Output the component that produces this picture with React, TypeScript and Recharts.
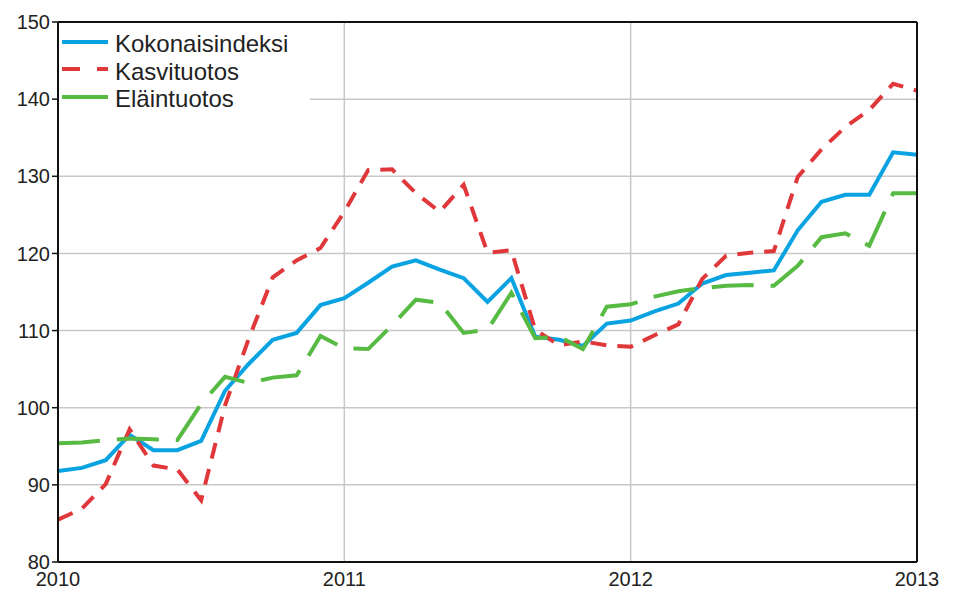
import React from "react";
import { CartesianGrid, Legend, Line, LineChart, ReferenceLine, XAxis, YAxis } from "recharts";

// monthly periods, Jan 2010 .. Jan 2013
const months = [
  "2010M01", "2010M02", "2010M03", "2010M04", "2010M05", "2010M06", "2010M07", "2010M08", "2010M09", "2010M10", "2010M11", "2010M12",
  "2011M01", "2011M02", "2011M03", "2011M04", "2011M05", "2011M06", "2011M07", "2011M08", "2011M09", "2011M10", "2011M11", "2011M12",
  "2012M01", "2012M02", "2012M03", "2012M04", "2012M05", "2012M06", "2012M07", "2012M08", "2012M09", "2012M10", "2012M11", "2012M12",
  "2013M01",
];

const kokonaisindeksi = [
  91.8, 92.2, 93.2, 96.5, 94.5, 94.5, 95.7, 102.2, 105.7, 108.8, 109.7, 113.3,
  114.2, 116.2, 118.3, 119.1, 117.9, 116.8, 113.7, 116.8, 109.2, 108.8, 108.0, 110.9,
  111.3, 112.5, 113.5, 116.1, 117.2, 117.5, 117.8, 123.0, 126.7, 127.6, 127.6, 133.1,
  132.8,
];

const kasvituotos = [
  85.5, 86.9, 90.1, 97.2, 92.5, 92.0, 88.0, 100.3, 109.0, 116.9, 119.1, 120.7,
  125.4, 130.8, 130.9, 127.8, 125.4, 128.9, 120.1, 120.4, 110.1, 108.1, 108.6, 108.1,
  107.9, 109.4, 110.8, 116.7, 119.7, 120.1, 120.3, 129.9, 133.5, 136.4, 138.6, 142.0,
  141.1,
];

const elaintuotos = [
  95.4, 95.5, 95.8, 96.0, 95.9, 95.8, 100.5, 104.0, 103.2, 103.9, 104.2, 109.3,
  107.7, 107.6, 110.7, 114.0, 113.6, 109.7, 110.1, 114.9, 109.0, 109.2, 107.6, 113.1,
  113.4, 114.4, 115.1, 115.5, 115.8, 115.9, 115.8, 118.4, 122.1, 122.6, 121.0, 127.8,
  127.8,
];

const yearTicks = [2010, 2011, 2012, 2013];
const valueTicks = [80, 90, 100, 110, 120, 130, 140, 150];

const series = [
  { key: "kokonais", name: "Kokonaisindeksi", color: "#0aa3e2", dash: undefined, legendDash: undefined },
  { key: "kasvi", name: "Kasvituotos", color: "#e0383a", dash: "16 11", legendDash: "18 17" },
  { key: "elain", name: "Eläintuotos", color: "#57bb43", dash: "42 17", legendDash: undefined },
];

const data = months.map((m, i) => ({
  t: Number(m.slice(0, 4)) + (Number(m.slice(5)) - 1) / 12,
  kokonais: kokonaisindeksi[i],
  kasvi: kasvituotos[i],
  elain: elaintuotos[i],
}));

const FONT = "'Liberation Sans', Arial, sans-serif";
const tickStyle = { fontSize: 20, fill: "#222", fontFamily: FONT };

function LegendBox() {
  return (
    <div style={{ background: "#fff", padding: "7px 0 6px 3px", fontFamily: FONT }}>
      {series.map((s) => (
        <div key={s.key} style={{ display: "flex", alignItems: "center", height: 27.5 }}>
          <svg width={48} height={6} style={{ marginTop: -4 }}>
            <line x1={0} y1={3} x2={46} y2={3} stroke={s.color} strokeWidth={4} strokeDasharray={s.legendDash} />
          </svg>
          <span style={{ fontSize: 24, color: "#222", marginLeft: 5, lineHeight: "27px" }}>{s.name}</span>
        </div>
      ))}
    </div>
  );
}

export default function App() {
  return (
    <div style={{ position: "absolute", left: 0, top: 0, width: 969, height: 592, background: "#fff" }}>
      <LineChart width={969} height={592} data={data} margin={{ top: 22, right: 0, bottom: 0, left: 0 }}>
        <CartesianGrid yAxisId="l" stroke="#c8c8c8" strokeWidth={1.5} />
        <XAxis
          dataKey="t"
          type="number"
          domain={[2010, 2013]}
          ticks={yearTicks}
          interval={0}
          tickLine={false}
          tickMargin={4}
          height={30}
          axisLine={{ stroke: "#111", strokeWidth: 2 }}
          tick={tickStyle}
        />
        <YAxis
          yAxisId="l"
          domain={[80, 150]}
          ticks={valueTicks}
          interval={0}
          width={58}
          tickSize={6}
          tickMargin={2}
          axisLine={{ stroke: "#111", strokeWidth: 2 }}
          tickLine={{ stroke: "#111", strokeWidth: 1.5 }}
          tick={tickStyle}
        />
        <YAxis
          yAxisId="r"
          orientation="right"
          domain={[80, 150]}
          ticks={valueTicks}
          interval={0}
          width={52}
          tickSize={6}
          tickMargin={4}
          axisLine={{ stroke: "#111", strokeWidth: 2 }}
          tickLine={{ stroke: "#111", strokeWidth: 1.5 }}
          tick={tickStyle}
        />
        <ReferenceLine yAxisId="l" y={150} stroke="#111" strokeWidth={2} />
        {series.map((s) => (
          <Line
            key={s.key}
            yAxisId="l"
            type="linear"
            dataKey={s.key}
            name={s.name}
            stroke={s.color}
            strokeWidth={4}
            strokeDasharray={s.dash}
            dot={false}
            activeDot={false}
            isAnimationActive={false}
          />
        ))}
        <Legend
          layout="vertical"
          align="center"
          verticalAlign="middle"
          wrapperStyle={{ left: 59, top: 23, width: 251 }}
          content={() => <LegendBox />}
        />
      </LineChart>
    </div>
  );
}
